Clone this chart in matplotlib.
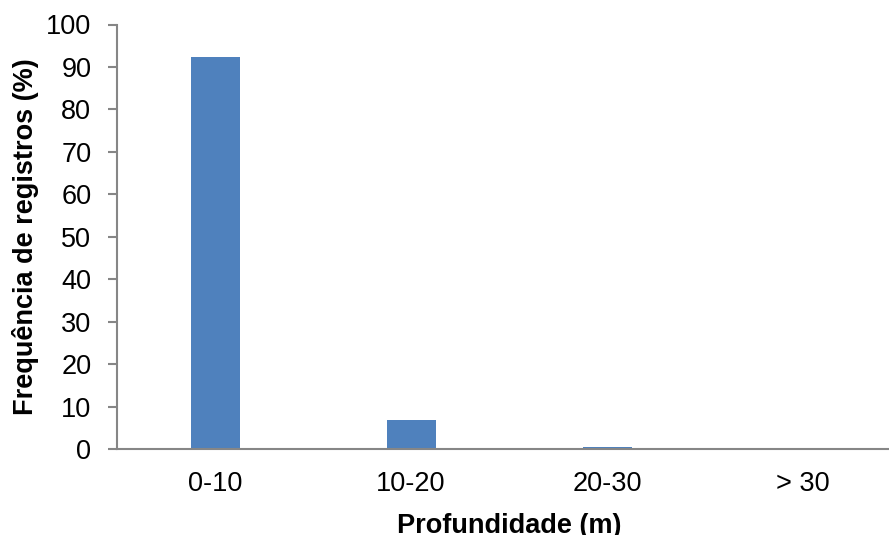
import matplotlib
matplotlib.use("Agg")
import matplotlib.pyplot as plt

categories = ["0-10", "10-20", "20-30", "> 30"]
freq = [92.3, 6.9, 0.5, 0.0]
yticks = [0, 10, 20, 30, 40, 50, 60, 70, 80, 90, 100]

plt.rcParams['font.family'] = ['Liberation Sans', 'DejaVu Sans']
axis_gray = "#868686"
fs = 19.5

W, H = 889, 535
fig = plt.figure(figsize=(W / 100, H / 100), dpi=100)
# plot area runs a little past the right edge of the figure
ax = fig.add_axes([117 / W, (H - 449) / H, 784 / W, 424.5 / H])

ax.bar(range(len(categories)), freq, width=0.25, color="#4F81BD")

ax.set_xlim(-0.5, len(categories) - 0.5)
ax.set_ylim(0, 100)
ax.set_yticks(yticks)
ax.set_xticks(range(len(categories)))
ax.set_xticklabels(categories)

for side in ("top", "right"):
    ax.spines[side].set_visible(False)
for side in ("left", "bottom"):
    ax.spines[side].set_color(axis_gray)
    ax.spines[side].set_linewidth(1.5)

ax.tick_params(axis="y", length=6.5, width=1.5, color=axis_gray, labelsize=fs, pad=12)
ax.tick_params(axis="x", length=0, labelsize=fs, pad=16)

fig.text(509 / W, 1 - 533 / H, "Profundidade (m)", fontsize=fs, fontweight="bold",
         ha="center", va="baseline")
fig.text(26 / W, 1 - 237 / H, "Frequência de registros (%)", fontsize=fs,
         fontweight="bold", rotation=90, ha="center", va="center")

fig.savefig("out.png", dpi=100)
